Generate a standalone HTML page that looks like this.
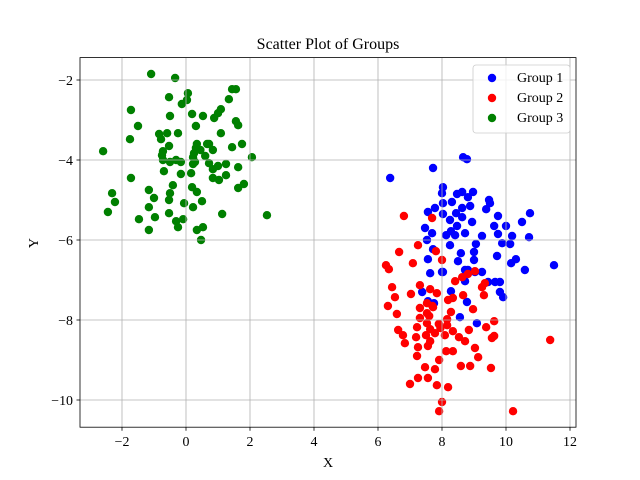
<!DOCTYPE html>
<html><head><meta charset="utf-8"><style>
html,body{margin:0;padding:0;background:#fff;}
svg{display:block;font-family:"Liberation Serif",serif;}
</style></head><body>
<svg id="chart" width="640" height="480" viewBox="0 0 640 480">
<rect width="640" height="480" fill="#fff"/>
<g id="pts"></g><g id="grid"></g>
<rect x="80" y="57.6" width="496" height="369.6" fill="none" stroke="#000" stroke-width="0.8"/>
<g id="ticks"></g>
<text x="328" y="49" text-anchor="middle" font-size="16">Scatter Plot of Groups</text>
<text x="328" y="467" text-anchor="middle" font-size="14">X</text>
<text x="38" y="243" text-anchor="middle" font-size="14" transform="rotate(-90 38 243)">Y</text>
<g>
<rect x="473" y="65" width="97" height="68" rx="3" fill="#fff" fill-opacity="0.8" stroke="#ccc" stroke-width="0.8"/>
<g><circle cx="492" cy="78" r="4.2" fill="#0000ff"/><text x="517" y="82" font-size="14">Group 1</text></g>
<g><circle cx="492" cy="98" r="4.2" fill="#ff0000"/><text x="517" y="102" font-size="14">Group 2</text></g>
<g><circle cx="492" cy="118" r="4.2" fill="#008000"/><text x="517" y="122" font-size="14">Group 3</text></g>
</g>
</svg>
<script>
const xTicks=[-2,0,2,4,6,8,10,12];
const yTicks=[-2,-4,-6,-8,-10];
const g1x=[8.66,8.78,7.72,6.38,8.03,8.0,8.47,8.63,8.97,8.81,8.31,8.03,9.47,9.5,8.88,7.78,7.56,8.63,9.38,10.75,8.03,8.44,9.75,8.63,8.25,8.94,10.5,9.63,10.0,7.47,8.47,8.28,7.69,8.13,8.72,8.41,9.25,9.75,10.19,10.72,7.53,9.88,10.13,9.06,8.25,7.72,9.0,8.59,9.72,7.56,8.5,9.0,10.31,10.16,11.5,10.59,7.63,8.0,8.72,9.25,9.44,9.66,9.81,8.72,9.81,9.91,7.38,8.28,7.56,8.78,8.03,9.03,8.81,7.75,8.56,9.09];
const g1y=[-3.93,-3.98,-4.2,-4.45,-4.68,-4.83,-4.85,-4.8,-4.8,-4.93,-5.05,-5.08,-5.0,-5.08,-5.15,-5.2,-5.3,-5.2,-5.23,-5.33,-5.35,-5.33,-5.4,-5.43,-5.5,-5.55,-5.55,-5.65,-5.65,-5.7,-5.65,-5.78,-5.83,-5.88,-5.83,-5.88,-5.9,-5.85,-5.9,-5.93,-6.0,-6.08,-6.1,-6.1,-6.13,-6.23,-6.3,-6.33,-6.4,-6.48,-6.53,-6.5,-6.48,-6.58,-6.63,-6.75,-6.83,-6.8,-6.75,-6.8,-7.05,-7.05,-7.05,-7.03,-7.3,-7.43,-7.3,-7.28,-7.53,-7.55,-6.8,-6.8,-6.75,-7.58,-7.93,-8.08];
const g2x=[6.66,6.25,6.34,7.09,8.0,9.03,8.81,8.63,8.41,9.34,9.25,7.31,6.44,7.63,7.84,7.03,6.53,8.66,9.31,8.34,8.19,7.53,7.72,7.31,6.31,8.97,8.28,7.53,6.59,7.31,8.16,9.63,7.53,8.16,9.38,7.22,6.63,7.63,8.84,8.34,6.78,7.78,8.09,7.19,7.5,9.63,8.53,9.56,11.38,6.84,7.63,8.72,7.25,7.56,9.03,8.13,8.34,7.22,9.13,7.91,7.47,8.59,8.88,9.53,7.78,7.25,7.56,7.0,7.84,8.19,8.0,7.91,10.22,6.81,7.69,7.25,7.81,7.6,7.9,7.7,7.95];
const g2y=[-6.3,-6.63,-6.73,-6.58,-6.5,-6.78,-6.85,-6.93,-7.03,-7.08,-7.18,-7.13,-7.18,-7.23,-7.33,-7.35,-7.43,-7.38,-7.38,-7.45,-7.5,-7.58,-7.68,-7.7,-7.65,-7.73,-7.8,-7.83,-7.85,-7.95,-7.98,-8.03,-8.08,-8.13,-8.18,-8.18,-8.25,-8.23,-8.25,-8.28,-8.38,-8.33,-8.38,-8.43,-8.38,-8.4,-8.43,-8.45,-8.5,-8.58,-8.53,-8.53,-8.68,-8.65,-8.7,-8.78,-8.78,-8.9,-8.93,-9.0,-9.18,-9.15,-9.15,-9.2,-9.23,-9.45,-9.45,-9.6,-9.63,-9.68,-10.05,-10.28,-10.28,-5.4,-5.45,-6.13,-6.28,-7.9,-8.1,-7.65,-8.2];
const g3x=[-1.09,-0.34,1.56,1.44,0.06,-0.53,1.34,0.03,-0.13,-1.72,1.09,1.0,0.19,0.53,-0.5,0.88,1.56,1.63,-1.5,0.31,1.09,-0.84,-0.59,-0.25,-1.75,-0.78,0.34,0.66,0.72,1.75,-0.53,1.44,0.31,0.84,-2.59,-0.72,0.25,-0.75,2.06,0.22,-0.72,-0.5,-0.31,-0.16,0.22,0.72,1.25,1.0,1.63,0.84,-0.69,0.16,-0.16,1.25,0.84,1.03,-1.72,1.81,1.63,-0.41,-1.16,0.19,-2.31,-0.5,0.34,-1.0,-0.53,-2.22,0.5,-0.06,0.22,-1.16,-2.44,-0.53,1.13,2.53,-0.97,-1.47,-0.31,-0.09,-0.25,-1.16,0.53,0.34,0.47,0.45,0.6,0.28];
const g3y=[-1.85,-1.95,-2.23,-2.23,-2.33,-2.43,-2.48,-2.5,-2.6,-2.75,-2.73,-2.83,-2.85,-2.9,-2.9,-2.95,-3.03,-3.13,-3.15,-3.15,-3.33,-3.35,-3.33,-3.33,-3.48,-3.48,-3.6,-3.6,-3.6,-3.6,-3.65,-3.68,-3.7,-3.75,-3.78,-3.78,-3.83,-3.88,-3.93,-3.93,-4.0,-4.05,-4.0,-4.05,-4.1,-4.08,-4.1,-4.15,-4.18,-4.23,-4.28,-4.33,-4.35,-4.38,-4.45,-4.5,-4.45,-4.6,-4.7,-4.63,-4.75,-4.68,-4.83,-4.83,-4.8,-4.95,-5.0,-5.05,-5.03,-5.08,-5.18,-5.18,-5.3,-5.33,-5.35,-5.38,-5.43,-5.48,-5.53,-5.48,-5.68,-5.75,-5.68,-5.75,-6.0,-3.75,-3.9,-4.05];
const NS='http://www.w3.org/2000/svg';
const X=v=>186+v*32, Y=v=>80-(v+2)*40;
const grid=document.getElementById('grid'),ticks=document.getElementById('ticks'),pts=document.getElementById('pts');
function mk(tag,attrs,parent){const e=document.createElementNS(NS,tag);for(const k in attrs)e.setAttribute(k,attrs[k]);parent.appendChild(e);return e;}
xTicks.forEach(t=>{
  const gl=mk('line',{x1:X(t),x2:X(t),y1:57.6,y2:427.2,stroke:'#b0b0b0','stroke-width':0.8},grid);
  
  
  mk('line',{x1:X(t),x2:X(t),y1:427.2,y2:430.7,stroke:'#000','stroke-width':0.8},ticks);
  const tx=mk('text',{x:X(t),y:446,'text-anchor':'middle','font-size':13.9},ticks);
  tx.textContent=(t<0?'\u2212'+(-t):t);
  
  
});
yTicks.forEach(t=>{
  const gl=mk('line',{x1:80,x2:576,y1:Y(t),y2:Y(t),stroke:'#b0b0b0','stroke-width':0.8},grid);
  
  
  mk('line',{x1:76.5,x2:80,y1:Y(t),y2:Y(t),stroke:'#000','stroke-width':0.8},ticks);
  const tx=mk('text',{x:73,y:Y(t)+5,'text-anchor':'end','font-size':13.9},ticks);
  tx.textContent='\u2212'+(-t);
  
  
});
[[g1x,g1y,'#0000ff','group-1-point'],[g2x,g2y,'#ff0000','group-2-point'],[g3x,g3y,'#008000','group-3-point']].forEach(([xs,ys,c,n])=>{
  xs.forEach((v,i)=>{
    const p=mk('circle',{cx:X(v),cy:Y(ys[i]),r:4.2,fill:c},pts);
    
    
  });
});
</script>
</body></html>
